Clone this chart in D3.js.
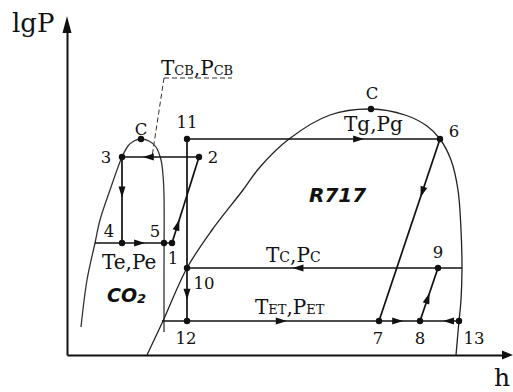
<!DOCTYPE html>
<html>
<head>
<meta charset="utf-8">
<script src="https://cdn.jsdelivr.net/npm/d3@7/dist/d3.min.js"></script>
<style>
  body { margin: 0; background: #fff; }
  svg { display: block; }
  .num { font-family: "DejaVu Serif", serif; font-size: 16.5px; fill: #111; }
  .state { font-family: "DejaVu Serif", serif; font-size: 20px; fill: #111; }
  .fluid { font-family: "DejaVu Sans", sans-serif; font-weight: bold; font-style: italic; fill: #111; }
</style>
</head>
<body>
<script>
// state points of the cascade cycle (h, lgP in arbitrary units)
var pointNames = ["1", "2", "3", "4", "5", "6", "7", "8", "9", "10", "11", "12", "13", "C", "C"];
var pointH     = [26.25, 33, 13.75, 13.75, 24.25, 93.25, 78, 88.25, 92.75, 30, 30, 30, 98, 18.5, 76];
var pointLgP   = [28, 49.5, 49.5, 28, 28, 54, 8.5, 8.5, 21.75, 21.75, 54, 8.5, 8.5, 54, 61.5];

// saturation domes
var co2DomeH   = [3.5, 5, 7, 8.25, 10.75, 13.75, 15.25, 16.75, 18.5, 20.5, 22.25, 23.5, 24, 24.25, 24.25, 24.25];
var co2DomeLgP = [7, 18.75, 28, 33.75, 41.25, 49.5, 52.25, 53.5, 54, 53.5, 52, 48.75, 45, 40, 20, 5.75];
var r717DomeH   = [20, 24, 30, 36.25, 44, 48.25, 55.5, 65.75, 76, 84.5, 90, 93.25, 96, 97.75, 98.5, 98.75, 98.5, 98, 97.25];
var r717DomeLgP = [0, 8.5, 21.75, 31.25, 41.25, 47, 54, 60, 61.5, 60, 57.25, 54, 48.75, 41.25, 31.25, 21.75, 13.75, 8.5, 0];

// isobars: level and extent in h
var isobarLgP    = [54, 49.5, 28, 21.75, 8.5];
var isobarHStart = [30, 13.75, 7, 30, 23.75];
var isobarHEnd   = [93.25, 33, 26.25, 98.75, 98];

// other process lines, point to point
var processFrom = ["11", "3", "1", "6", "8"];
var processTo   = ["12", "4", "2", "7", "9"];

// flow arrows: from, to, fraction along
var arrowFrom = ["2", "3", "4", "1", "10", "11", "6", "9", "12", "7", "13", "8"];
var arrowTo   = ["3", "4", "5", "2", "12", "6", "7", "10", "7", "8", "8", "9"];
var arrowT    = [0.73, 0.47, 0.55, 0.27, 0.6, 0.7, 0.32, 0.58, 0.52, 0.59, 0.41, 0.53];

var width = 513, height = 392;
var x = d3.scaleLinear().domain([0, 110]).range([67, 507]);
var y = d3.scaleLinear().domain([0, 85]).range([355, 15]);

var svg = d3.select("body").append("svg")
    .attr("width", width)
    .attr("height", height);

function pt(name) {
    var i = pointNames.indexOf(name);
    return [x(pointH[i]), y(pointLgP[i])];
}

// axes
var xAxisScale = x.copy().range([67, 505]);
var yAxisScale = y.copy().range([355, 30]);
svg.append("g")
    .attr("transform", "translate(0,355)")
    .call(d3.axisBottom(xAxisScale).tickValues([]).tickSizeOuter(0))
    .select(".domain").attr("stroke", "#111").attr("stroke-width", 2);
svg.append("g")
    .attr("transform", "translate(67,0)")
    .call(d3.axisLeft(yAxisScale).tickValues([]).tickSizeOuter(0))
    .select(".domain").attr("stroke", "#111").attr("stroke-width", 2);
svg.append("path").attr("d", "M513,355L502,350.5L502,359.5Z").attr("fill", "#111");
svg.append("path").attr("d", "M67,16L62.5,33L71.5,33Z").attr("fill", "#111");

svg.append("text").attr("class", "state").style("font-size", "26px")
    .attr("x", 12).attr("y", 32).text("lgP");
svg.append("text").attr("class", "state").style("font-size", "25px")
    .attr("x", 494).attr("y", 386).text("h");

// domes
var dome = d3.line().curve(d3.curveCatmullRom.alpha(0.5));
svg.append("path")
    .attr("d", dome(co2DomeH.map(function(h, i) { return [x(h), y(co2DomeLgP[i])]; })))
    .attr("fill", "none").attr("stroke", "#333").attr("stroke-width", 1.3);
svg.append("path")
    .attr("d", dome(r717DomeH.map(function(h, i) { return [x(h), y(r717DomeLgP[i])]; })))
    .attr("fill", "none").attr("stroke", "#222").attr("stroke-width", 1.3);

// cycle lines
var cycle = svg.append("g").attr("stroke", "#111").attr("stroke-width", 1.7).attr("fill", "none");
cycle.selectAll(".isobar")
    .data(isobarLgP)
    .enter().append("line")
    .attr("class", "isobar")
    .attr("x1", function(d, i) { return x(isobarHStart[i]); })
    .attr("x2", function(d, i) { return x(isobarHEnd[i]); })
    .attr("y1", function(d) { return y(d); })
    .attr("y2", function(d) { return y(d); });
cycle.selectAll(".proc")
    .data(processFrom)
    .enter().append("line")
    .attr("class", "proc")
    .attr("x1", function(d) { return pt(d)[0]; })
    .attr("y1", function(d) { return pt(d)[1]; })
    .attr("x2", function(d, i) { return pt(processTo[i])[0]; })
    .attr("y2", function(d, i) { return pt(processTo[i])[1]; });

// arrows
svg.selectAll(".arrow")
    .data(arrowFrom)
    .enter().append("path")
    .attr("class", "arrow")
    .attr("fill", "#111")
    .attr("d", "M0,0L-11,-3.5L-11,3.5Z")
    .attr("transform", function(d, i) {
        var a = pt(d), b = pt(arrowTo[i]);
        var px = a[0] + (b[0] - a[0]) * arrowT[i];
        var py = a[1] + (b[1] - a[1]) * arrowT[i];
        var ang = Math.atan2(b[1] - a[1], b[0] - a[0]) * 180 / Math.PI;
        return "translate(" + px + "," + py + ") rotate(" + ang + ")";
    });

// dots
svg.selectAll(".dot")
    .data(pointNames)
    .enter().append("circle")
    .attr("class", "dot")
    .attr("r", 3.2)
    .attr("fill", "#111")
    .attr("cx", function(d, i) { return x(pointH[i]); })
    .attr("cy", function(d, i) { return y(pointLgP[i]); });

// point labels
var labelOffset = [[1, 21], [14, 6], [-16, 6], [-13, -6], [-9, -6], [14, -2], [-1, 23], [0, 23],
                   [0, -10], [17, 21], [0, -11], [-1, 23], [15, 23], [0, -4], [1, -10]];
svg.selectAll(".num")
    .data(pointNames)
    .enter().append("text")
    .attr("class", "num")
    .attr("text-anchor", "middle")
    .attr("x", function(d, i) { return x(pointH[i]) + labelOffset[i][0]; })
    .attr("y", function(d, i) { return y(pointLgP[i]) + labelOffset[i][1]; })
    .text(function(d) { return d; });

// state labels with small-caps subscripts
function stateLabel(px, py, parts) {
    var t = svg.append("text").attr("class", "state").attr("x", px).attr("y", py);
    parts.forEach(function(p) {
        var s = t.append("tspan").text(p[0]);
        if (p[1]) s.style("font-size", p[1] + "px");
    });
    return t;
}
stateLabel(344, 131, [["Tg,Pg"]]);
stateLabel(266, 262, [["T"], ["C", 14], [",P"], ["C", 14]]);
stateLabel(255, 314, [["T"], ["ET", 13], [",P"], ["ET", 13]]);
stateLabel(102, 269, [["Te,Pe"]]);
stateLabel(161, 75, [["T"], ["СВ", 13], [",P"], ["СВ", 13]]);

// supercritical leader
svg.append("path")
    .attr("d", "M164,78L232,78M164,78L" + x(21.25) + "," + y(49.5))
    .attr("fill", "none").attr("stroke", "#333").attr("stroke-width", 1)
    .attr("stroke-dasharray", "5,3");

// fluid names
var co2 = svg.append("text").attr("class", "fluid").style("font-size", "19px")
    .attr("x", 107).attr("y", 302);
co2.append("tspan").text("CO");
co2.append("tspan").style("font-size", "13px").attr("dy", 1).text("2");
svg.append("text").attr("class", "fluid").style("font-size", "20px")
    .attr("x", 309).attr("y", 202).text("R717");
</script>
</body>
</html>
